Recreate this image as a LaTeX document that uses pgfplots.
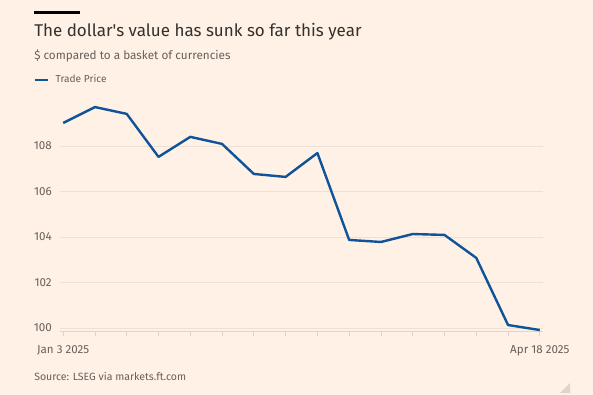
\documentclass[border=0pt]{standalone}
\usepackage{pgfplots}
\pgfplotsset{compat=1.18}
\usepackage{fontspec}
\setmainfont{Fira Sans}
\newfontfamily\plainapos[Ligatures=TeXOff]{Fira Sans}
\definecolor{ftbg}{HTML}{FFF1E5}
\definecolor{ftblue}{HTML}{0F5499}
\definecolor{fttitle}{HTML}{33302E}
\definecolor{ftgray}{HTML}{66605C}
\definecolor{ftgrid}{HTML}{EDE0D5}
\definecolor{fttick}{HTML}{E0D3C8}
\begin{document}
\begin{tikzpicture}
\fill[ftbg] (0,0) rectangle (444.75pt,-296.25pt);
\begin{scope}[x=0.75pt,y=-0.75pt]
\fill[black] (34,11.5) rectangle (80,14.5);
\node[anchor=base west,inner sep=0pt,text=fttitle,font=\fontsize{12.75pt}{15pt}\selectfont] at (34,37) {The dollar{\plainapos'}s value has sunk so far this year};
\node[anchor=base west,inner sep=0pt,text=ftgray,font=\fontsize{8.8pt}{11pt}\selectfont] at (34,59.5) {\$ compared to a basket of currencies};
\node[anchor=base west,inner sep=0pt,text=ftgray,font=\fontsize{7.9pt}{10pt}\selectfont] at (34,381) {Source: LSEG via markets.ft.com};
\fill[fttick] (570,383) -- (570,393) -- (560,393) -- cycle;
\end{scope}
\begin{axis}[
  at={(45pt,-248.55pt)}, anchor=south west,
  scale only axis, width=362.25pt, height=173.2pt,
  xmin=-0.1, xmax=15.1, ymin=99.85, ymax=110,
  axis lines*=left,
  x axis line style={draw=fttick, line width=0.6pt},
  y axis line style={draw=none},
  ytick={100,102,104,106,108},
  ymajorgrids, grid style={draw=ftgrid, line width=0.6pt},
  ytick style={draw=none},
  xtick={0,...,15},
  xticklabels={Jan 3 2025,,,,,,,,,,,,,,,Apr 18 2025},
  xtick style={draw=fttick, line width=0.6pt},
  tick align=outside, major tick length=3.75pt,
  /pgf/number format/assume math mode=true,
  ticklabel style={font=\fontsize{8.7pt}{10pt}\selectfont, text=ftgray},
  yticklabel style={anchor=east, inner sep=0pt, xshift=-2.25pt},
  xticklabel style={anchor=north, inner sep=0pt, yshift=-7pt},
  legend style={at={(-0.0538,1.0888)}, anchor=west, draw=none, fill=none,
    font=\fontsize{7.6pt}{9pt}\selectfont, text=ftgray, inner sep=0pt,
    nodes={inner sep=0pt}, /tikz/every odd column/.append style={column sep=4.5pt}},
  legend image code/.code={\draw[#1] (0pt,0pt) -- (9.75pt,0pt);},
]
\addplot[ftblue, line width=1.8pt, line join=round] coordinates {
(0,109.01) (1,109.71) (2,109.41) (3,107.52) (4,108.40) (5,108.09)
(6,106.77) (7,106.64) (8,107.69) (9,103.87) (10,103.78) (11,104.13)
(12,104.09) (13,103.08) (14,100.13) (15,99.91)};
\addlegendentry{Trade Price}
\end{axis}
\pgfresetboundingbox
\path[use as bounding box] (0,0) rectangle (444.75pt,-296.25pt);
\end{tikzpicture}
\end{document}
